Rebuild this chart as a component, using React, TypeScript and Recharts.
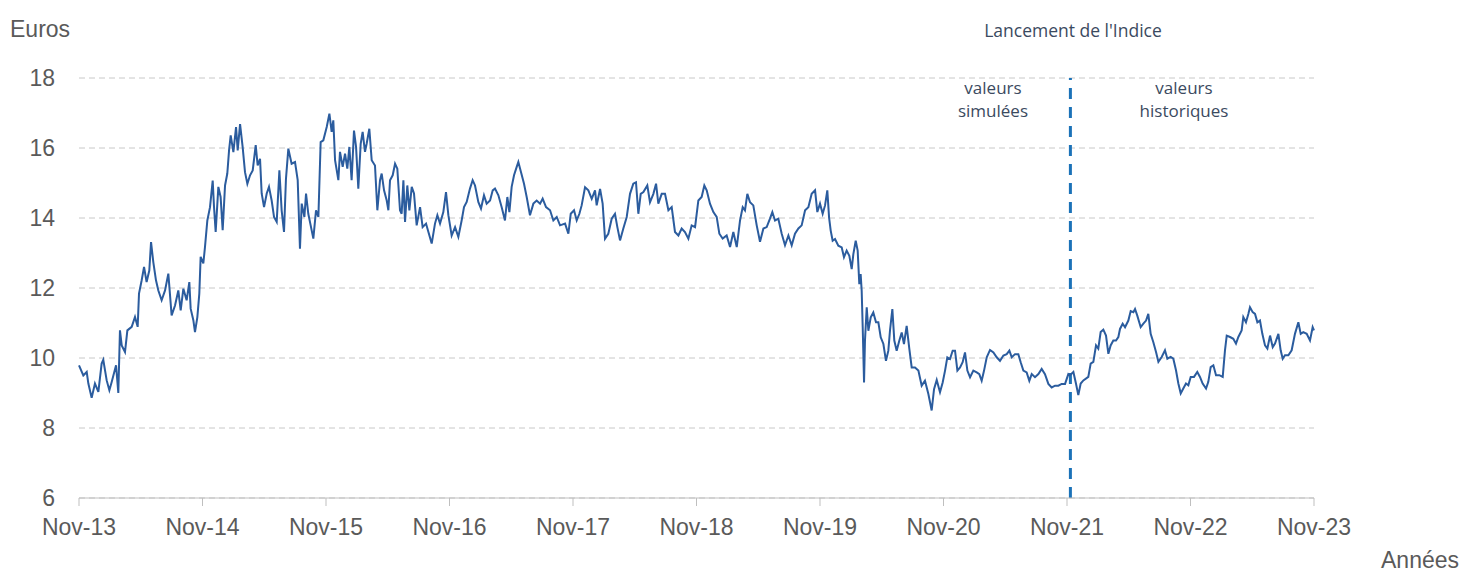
import { CartesianGrid, Line, LineChart, ReferenceLine, XAxis, YAxis } from 'recharts'

// months since Nov-13
const monthTicks = [0, 12, 24, 36, 48, 60, 72, 84, 96, 108, 120]
const tickLabels = ['Nov-13', 'Nov-14', 'Nov-15', 'Nov-16', 'Nov-17', 'Nov-18', 'Nov-19', 'Nov-20', 'Nov-21', 'Nov-22', 'Nov-23']
const euroTicks = [6, 8, 10, 12, 14, 16, 18]
const launchMonth = 96.33

// valeurs simulées (before the index launch)
const simulatedMonths = [
  0, 0.42, 0.75, 0.91, 1.23, 1.55, 1.88, 2.2, 2.36, 2.69, 2.95, 3.17, 3.6, 3.82, 3.98, 4.15, 4.47, 4.7, 5.12, 5.44,
  5.7, 5.83, 6.09, 6.32, 6.57, 6.83, 7.0, 7.22, 7.48, 7.71, 8.03, 8.36, 8.68, 9.0, 9.33, 9.65, 9.88, 10.14, 10.46, 10.72,
  10.85, 11.11, 11.27, 11.5, 11.69, 11.82, 12.08, 12.24, 12.47, 12.73, 12.99, 13.12, 13.28, 13.54, 13.76, 13.96, 14.19, 14.41, 14.58, 14.74,
  15.0, 15.26, 15.42, 15.65, 15.9, 16.13, 16.36, 16.62, 16.88, 17.17, 17.36, 17.59, 17.75, 17.98, 18.24, 18.46, 18.72, 18.95, 19.21, 19.47,
  19.69, 19.92, 20.11, 20.34, 20.66, 20.99, 21.25, 21.47, 21.64, 21.9, 22.06, 22.28, 22.51, 22.77, 23.03, 23.26, 23.48, 23.74, 24.07, 24.33,
  24.55, 24.71, 24.88, 25.2, 25.36, 25.62, 25.85, 26.07, 26.27, 26.49, 26.72, 26.92, 27.14, 27.37, 27.56, 27.79, 27.95, 28.21, 28.44, 28.76,
  28.99, 29.25, 29.41, 29.64, 29.9, 30.06, 30.22, 30.48, 30.71, 30.93, 31.19, 31.35, 31.52, 31.68, 31.9, 32.1, 32.33, 32.55, 32.81, 33.14,
  33.39, 33.72, 33.95, 34.27, 34.59, 34.82, 35.08, 35.4, 35.66, 35.89, 36.21, 36.54, 36.86, 37.18, 37.41, 37.67, 37.99, 38.25, 38.48, 38.8,
  39.06, 39.35, 39.61, 39.94, 40.2, 40.42, 40.75, 41.07, 41.39, 41.62, 41.82, 42.04, 42.27, 42.53, 42.69, 42.95, 43.24, 43.5, 43.82, 44.15,
  44.47, 44.8, 45.05, 45.38, 45.77, 46.09, 46.42, 46.74, 47.23, 47.55, 47.78, 48.1, 48.36, 48.62,
  48.84, 49.17, 49.49, 49.82, 50.14, 50.3, 50.63, 50.88, 51.11, 51.43, 51.76, 52.08, 52.31, 52.57, 52.89, 53.22, 53.54, 53.86, 54.12, 54.35,
  54.58, 54.84, 55.22, 55.48, 55.81, 56.07, 56.29, 56.62, 56.94, 57.27, 57.59, 57.91, 58.24, 58.56, 58.88, 59.21, 59.53, 59.86, 60.18, 60.5,
  60.76, 60.99, 61.31, 61.64, 61.96, 62.22, 62.54, 62.93, 63.26, 63.58, 63.91, 64.23, 64.49, 64.71, 64.94, 65.2, 65.52, 65.85, 66.17, 66.5,
  66.82, 67.14, 67.37, 67.63, 67.95, 68.28, 68.6, 68.93, 69.25, 69.57, 69.9, 70.22, 70.55, 70.87, 71.19, 71.52, 71.74, 72.0, 72.26, 72.49,
  72.71, 72.88, 73.04, 73.23, 73.46, 73.78, 74.11, 74.33, 74.59, 74.85, 75.08, 75.24, 75.47, 75.66, 75.82, 75.95, 76.05, 76.15, 76.28, 76.37,
  76.54, 76.7, 76.93, 77.18, 77.44, 77.67, 77.9, 78.16, 78.41, 78.64, 78.8, 79.03, 79.22, 79.45, 79.71, 79.94, 80.16, 80.42, 80.68, 80.91,
  81.23, 81.56, 81.88, 82.2, 82.53, 82.85, 83.08, 83.34, 83.66, 83.92, 84.15, 84.37, 84.63, 84.89, 85.12, 85.35, 85.61, 85.86, 86.09, 86.32,
  86.58, 86.9, 87.23, 87.48, 87.71, 87.94, 88.2, 88.52, 88.85, 89.17, 89.49, 89.82, 90.14, 90.4, 90.63, 90.95, 91.27, 91.5, 91.76, 92.08,
  92.34, 92.57, 92.89, 93.22, 93.54, 93.86, 94.19, 94.51, 94.84, 95.16, 95.48, 95.81,
]
const simulatedValues = [
  9.79, 9.5, 9.6, 9.27, 8.86, 9.27, 9.03, 9.84, 9.95, 9.36, 9.08, 9.31, 9.79, 9.0, 10.79, 10.36, 10.17, 10.79, 10.89, 11.17,
  10.89, 11.84, 12.22, 12.6, 12.17, 12.5, 13.31, 12.74, 12.22, 11.93, 11.65, 11.93, 12.41, 11.22, 11.5, 11.93, 11.36, 11.98, 11.65, 12.17,
  11.41, 11.08, 10.74, 11.17, 11.84, 12.89, 12.7, 13.17, 13.93, 14.31, 15.07, 14.31, 13.6, 14.89, 14.6, 13.65, 14.93, 15.27, 15.93, 16.36,
  15.88, 16.6, 15.93, 16.68, 16.03, 15.31, 14.98, 15.22, 15.36, 16.08, 15.5, 15.69, 14.7, 14.31, 14.7, 14.89, 14.5, 14.03, 13.89, 15.36,
  14.22, 13.6, 15.12, 15.98, 15.55, 15.6, 15.08, 13.12, 14.41, 14.03, 14.7, 14.12, 13.79, 13.41, 14.22, 14.03, 16.17, 16.22, 16.6, 16.98,
  16.46, 16.79, 15.65, 15.08, 15.89, 15.46, 15.84, 15.41, 16.03, 15.08, 16.5, 16.03, 14.84, 16.12, 16.46, 15.89, 16.12, 16.55, 15.65, 15.5,
  14.22, 15.08, 15.27, 14.79, 14.5, 14.22, 15.08, 15.22, 15.55, 15.41, 14.22, 14.12, 15.08, 13.89, 14.93, 14.22, 14.89, 14.7, 13.79, 14.31,
  13.74, 13.84, 13.6, 13.27, 13.84, 14.08, 13.84, 14.17, 14.74, 14.08, 13.5, 13.74, 13.46, 13.93, 14.31, 14.46, 14.84, 15.08, 14.93, 14.46,
  14.27, 14.65, 14.41, 14.5, 14.79, 14.84, 14.65, 14.31, 13.93, 14.6, 14.17, 14.89, 15.22, 15.46, 15.6, 15.31, 14.98, 14.6, 14.08, 14.41,
  14.5, 14.41, 14.55, 14.31, 14.22, 13.93, 14.03, 13.79, 13.84, 13.55, 14.12, 14.22, 13.93, 14.12,
  14.36, 14.88, 14.79, 14.55, 14.79, 14.36, 14.83, 14.41, 13.41, 13.55, 13.98, 14.12, 13.74, 13.36, 13.7, 14.03, 14.69, 14.98, 15.02, 14.12,
  14.69, 14.74, 14.93, 14.45, 14.69, 14.98, 14.41, 14.69, 14.69, 14.22, 14.31, 13.6, 13.5, 13.7, 13.6, 13.41, 13.79, 13.74, 14.5, 14.6,
  14.93, 14.79, 14.41, 14.17, 14.03, 13.55, 13.41, 13.5, 13.17, 13.6, 13.17, 13.93, 14.31, 14.22, 14.69, 14.45, 14.36, 13.79, 13.32, 13.7,
  13.74, 13.98, 14.17, 13.93, 13.98, 13.55, 13.22, 13.5, 13.22, 13.55, 13.7, 13.79, 14.22, 14.31, 14.69, 14.79, 14.17, 14.41, 14.12, 14.36,
  14.79, 14.02, 13.64, 13.35, 13.4, 13.21, 13.16, 12.88, 13.07, 12.92, 12.54, 12.97, 13.35, 13.07, 12.11, 12.4, 11.92, 10.88, 9.3, 10.5,
  11.45, 10.78, 11.16, 11.3, 11.02, 11.02, 10.59, 10.4, 9.92, 10.21, 10.78, 11.4, 10.5, 10.21, 10.5, 10.73, 10.4, 10.92, 10.26, 9.73,
  9.73, 9.64, 9.21, 9.35, 8.97, 8.5, 9.11, 9.37, 9.02, 9.3, 9.64, 10.02, 9.97, 10.21, 10.21, 9.64, 9.73, 9.88, 10.16, 9.64,
  9.45, 9.64, 9.59, 9.54, 9.35, 9.64, 10.02, 10.23, 10.16, 10.02, 9.92, 10.07, 10.11, 10.21, 10.02, 10.11, 10.11, 9.88, 9.64, 9.59,
  9.35, 9.54, 9.45, 9.54, 9.69, 9.54, 9.26, 9.16, 9.21, 9.21, 9.26, 9.26,
]

// valeurs historiques (after the index launch)
const historicalMonths = [
  96.13, 96.29, 96.62, 96.87, 97.1, 97.33, 97.59, 98.07, 98.3, 98.56, 98.82, 99.04, 99.27, 99.53, 99.79, 100.02, 100.24, 100.5, 100.76, 100.99,
  101.15, 101.41, 101.64, 101.96, 102.19, 102.45, 102.61, 102.83, 103.16, 103.42, 103.68, 103.9, 104.13, 104.39, 104.65, 104.88, 105.2, 105.52, 105.75, 106.07,
  106.33, 106.59, 106.82, 107.05, 107.3, 107.56, 107.79, 108.02, 108.34, 108.66, 108.92, 109.18, 109.51, 109.73, 109.96, 110.22, 110.48, 110.8, 111.13, 111.35,
  111.52, 111.84, 112.16, 112.42, 112.65, 112.97, 113.13, 113.39, 113.62, 113.78, 114.04, 114.27, 114.5, 114.75, 114.98, 115.24, 115.47, 115.73, 115.99, 116.21,
  116.54, 116.76, 116.96, 117.18, 117.51, 117.83, 118.15, 118.48, 118.71, 118.96, 119.29, 119.61, 119.87, 120,
]
const historicalValues = [
  9.54, 9.51, 9.6, 9.27, 8.94, 9.27, 9.36, 9.46, 9.84, 9.89, 10.36, 10.27, 10.74, 10.81, 10.64, 10.12, 10.36, 10.5, 10.5, 10.6,
  10.83, 10.98, 10.88, 11.07, 11.34, 11.31, 11.4, 11.21, 10.88, 10.98, 11.07, 11.26, 10.69, 10.45, 10.17, 9.89, 10.03, 10.22, 9.98, 10.03,
  9.98, 9.65, 9.27, 8.99, 9.13, 9.27, 9.22, 9.46, 9.46, 9.6, 9.46, 9.27, 9.13, 9.32, 9.74, 9.79, 9.51, 9.51, 9.46, 10.22,
  10.64, 10.6, 10.55, 10.41, 10.6, 10.79, 11.17, 11.02, 11.26, 11.45, 11.31, 11.26, 11.02, 11.07, 10.69, 10.36, 10.27, 10.64, 10.31, 10.41,
  10.69, 10.22, 9.98, 10.08, 10.08, 10.22, 10.69, 11.02, 10.69, 10.74, 10.69, 10.5, 10.88, 10.79,
]

const data = [
  ...simulatedMonths.map((m, i) => ({ m, v: simulatedValues[i] })),
  ...historicalMonths.map((m, i) => ({ m, v: historicalValues[i] })),
]

const AXIS_FONT = { fill: '#5a5a5a', fontSize: 23, fontFamily: '"Liberation Sans", Arial, sans-serif' }
const NOTE_FONT = '"Open Sans", "Noto Sans", sans-serif'
const NOTE_COLOR = '#3b4a60'

export default function App() {
  return (
    <div style={{ position: 'absolute', left: 0, top: 0, width: 1460, height: 574, background: '#fff' }}>
      <LineChart width={1460} height={574} data={data} margin={{ top: 78, right: 146, bottom: 0, left: 0 }}>
        <CartesianGrid vertical={false} stroke="#c8c8c8" strokeDasharray="6 4" />
        <XAxis
          dataKey="m"
          type="number"
          domain={[0, 120]}
          ticks={monthTicks}
          tickFormatter={(m: number) => tickLabels[monthTicks.indexOf(m)] ?? ''}
          height={76}
          stroke="#bfbfbf"
          tickSize={8}
          tickMargin={13}
          tick={AXIS_FONT}
          interval={0}
        />
        <YAxis
          type="number"
          domain={[6, 18]}
          ticks={euroTicks}
          width={79}
          axisLine={false}
          tickLine={false}
          tickSize={0}
          tickMargin={24}
          tick={AXIS_FONT}
          interval={0}
        />
        <ReferenceLine x={launchMonth} stroke="#1b72b8" strokeWidth={3} strokeDasharray="11 8" />
        <Line
          type="linear"
          dataKey="v"
          stroke="#2b5c9e"
          strokeWidth={2}
          dot={false}
          activeDot={false}
          isAnimationActive={false}
        />
      </LineChart>
      <svg width={1460} height={574} style={{ position: 'absolute', left: 0, top: 0, pointerEvents: 'none' }}>
        <text x={10} y={37} fontSize={23} fill="#5a5a5a" fontFamily={AXIS_FONT.fontFamily}>Euros</text>
        <text x={1381} y={568} fontSize={23} fill="#5a5a5a" fontFamily={AXIS_FONT.fontFamily}>Années</text>
        <text x={1073} y={37} fontSize={17.5} fill={NOTE_COLOR} fontFamily={NOTE_FONT} textAnchor="middle">Lancement de l'Indice</text>
        <text x={993} y={94} fontSize={17} fill={NOTE_COLOR} fontFamily={NOTE_FONT} textAnchor="middle">valeurs</text>
        <text x={993} y={117} fontSize={17} fill={NOTE_COLOR} fontFamily={NOTE_FONT} textAnchor="middle">simulées</text>
        <text x={1184} y={94} fontSize={17} fill={NOTE_COLOR} fontFamily={NOTE_FONT} textAnchor="middle">valeurs</text>
        <text x={1184} y={117} fontSize={17} fill={NOTE_COLOR} fontFamily={NOTE_FONT} textAnchor="middle">historiques</text>
      </svg>
    </div>
  )
}
